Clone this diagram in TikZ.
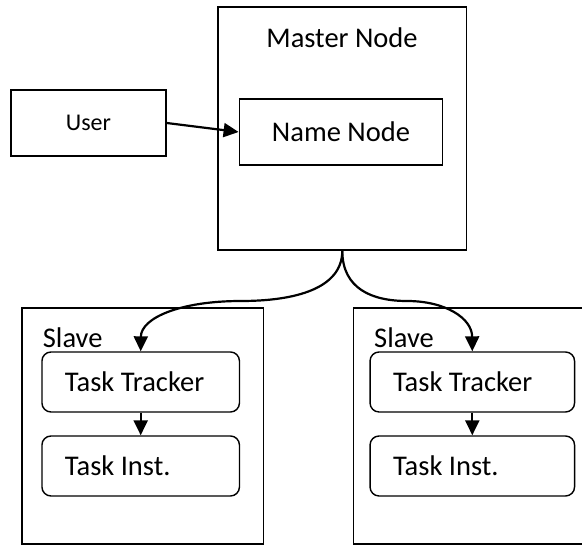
\documentclass[tikz,border=0pt]{standalone}
\usepackage{fontspec}
\setmainfont{Carlito}
\usepackage{tikz}
\usetikzlibrary{arrows.meta,positioning,calc}

\begin{document}
\begin{tikzpicture}[x=1pt,y=-1pt]
      \tikzstyle{every node}=[font=\fontsize{28.5}{32}\selectfont, inner sep=0pt]
      \tikzstyle{box}=[draw, line width=1.4pt]
      \tikzstyle{taskbox}=[draw, line width=1.4pt, rounded corners=9pt, minimum height=60pt, align=flush left, inner xsep=23pt]
      \tikzstyle{flow}=[line width=2.2pt, -{Triangle[length=15pt,width=14pt]}]
      \useasboundingbox (0,0) rectangle (582,545);
      % master side
      \node[box, minimum width=248.6pt, minimum height=243pt] (master) at (342.3,128.5) {};
      \node (masterlbl) at (342,38) {Master Node};
      \node[box, minimum width=203.4pt, minimum height=66pt] (name) at (341,132) {Name Node};
      \node[box, minimum width=155pt, minimum height=66pt, font=\fontsize{24}{28}\selectfont] (user) at (88.5,123) {User};
      \draw[flow] (user.east) -- (name.west);
      % slaves
      \node[box, minimum width=241.5pt, minimum height=236pt] (slaveA) at (142.75,426) {};
      \node[box, minimum width=241.5pt, minimum height=236pt] (slaveB) at (474.2,426) {};
      \node[anchor=west] (slaveAlbl) at (42.7,338) {Slave};
      \node[anchor=west] (slaveBlbl) at (374,338) {Slave};
      \node[taskbox, text width=151.5pt] (trackA) at (140.7,382) {Task Tracker};
      \node[taskbox, text width=151.5pt] (instA) at (140.7,466) {Task Inst.};
      \node[taskbox, text width=158.5pt] (trackB) at (472.3,382) {Task Tracker};
      \node[taskbox, text width=158.5pt] (instB) at (472.3,466) {Task Inst.};
      \draw[flow] (trackA) -- (instA);
      \draw[flow] (trackB) -- (instB);
      \draw[flow] (master.south) .. controls +(0,38) and (295,301) .. (241,301)
            .. controls (180,301) and (141,318) .. (trackA.north);
      \draw[flow] (master.south) .. controls +(0,38) and (372,301) .. (407,301)
            .. controls (445,301) and (472,318) .. (trackB.north);
    \end{tikzpicture}
\end{document}
